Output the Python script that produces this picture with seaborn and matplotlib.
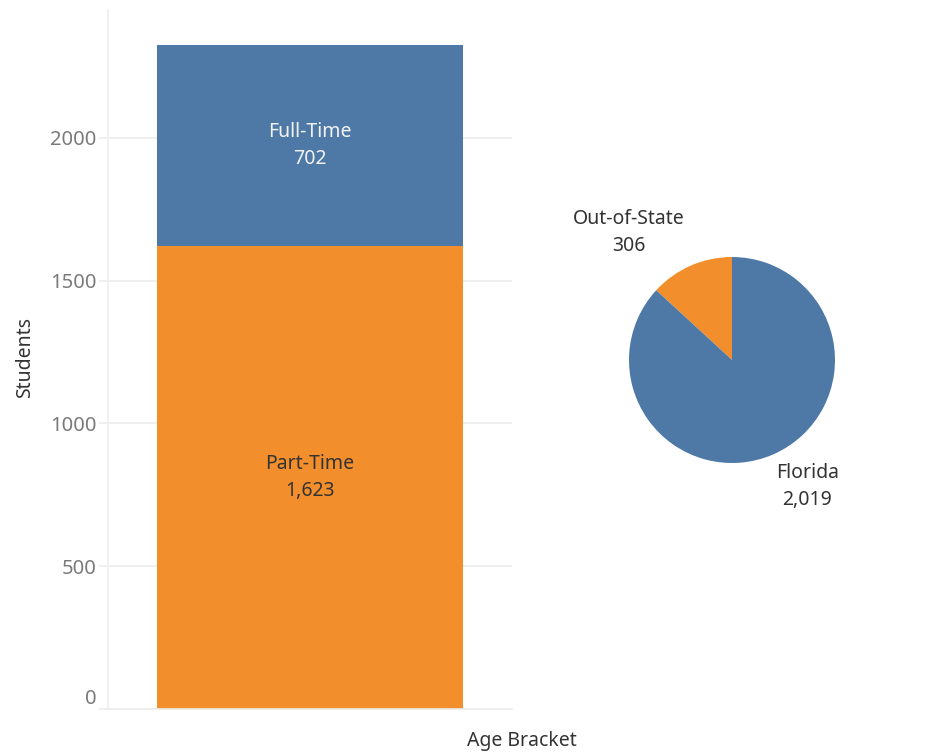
import numpy as np
import pandas as pd
import seaborn as sns
import matplotlib.pyplot as plt

# data
status_labels = ["Part-Time", "Full-Time"]
status_counts = [1623, 702]
residency_labels = ["Out-of-State", "Florida"]
residency_counts = [306, 2019]

blue = "#4e79a7"
orange = "#f28e2b"
grid_col = "#ececec"

sns.set_theme(style="white")
plt.rcParams['font.family'] = ['Noto Sans', 'DejaVu Sans']

fig = plt.figure(figsize=(9.36, 7.55), dpi=100)

# stacked bar
ax = fig.add_axes([108 / 936, 1 - 709 / 755, 404 / 936, 699 / 755])
total = sum(status_counts)
df_total = pd.DataFrame({"x": [""], "y": [total]})
df_part = pd.DataFrame({"x": [""], "y": [status_counts[0]]})
sns.barplot(data=df_total, x="x", y="y", color=blue, saturation=1, width=0.755,
            linewidth=0, ax=ax)
sns.barplot(data=df_part, x="x", y="y", color=orange, saturation=1, width=0.755,
            linewidth=0, ax=ax)

ax.set_xlim(-0.5, 0.5)
ax.set_ylim(0, 2448)
ax.set_yticks([0, 500, 1000, 1500, 2000])
ax.set_yticklabels(["0", "500", "1000", "1500", "2000"])
ax.yaxis.grid(True, color=grid_col, linewidth=1.2)
ax.set_axisbelow(True)
ax.tick_params(axis="y", length=6.5, width=1.2, color=grid_col, pad=2,
               labelsize=14.5, labelcolor="#7a7a7a", left=True)
ax.tick_params(axis="x", bottom=False, labelbottom=False)
ax.set_xlabel("")
ax.set_ylabel("")
for s in ["top", "right"]:
    ax.spines[s].set_visible(False)
ax.spines["left"].set_color("#f0f0f0")
ax.spines["bottom"].set_color(grid_col)
ax.spines["bottom"].set_linewidth(1.2)
ax.get_yticklabels()[0].set_va("bottom")

# segment labels
ax.text(0, status_counts[0] / 2, f"{status_labels[0]}\n{status_counts[0]:,}",
        ha="center", va="center", fontsize=14, color="#333333", linespacing=1.45)
ax.text(0, status_counts[0] + status_counts[1] / 2, f"{status_labels[1]}\n{status_counts[1]:,}",
        ha="center", va="center", fontsize=14, color="#f2f2f2", linespacing=1.45)

fig.text(25 / 936, 1 - 358 / 755, "Students", rotation=90, ha="center", va="center",
         fontsize=14, color="#333333")
fig.text(522 / 936, 1 - 741 / 755, "Age Bracket", ha="center", va="center",
         fontsize=14, color="#333333")

# pie
pax = fig.add_axes([629 / 936, 1 - 463 / 755, 206 / 936, 206 / 755])
pax.pie(residency_counts, colors=[orange, blue], startangle=90, counterclock=True,
        wedgeprops=dict(linewidth=0))
pax.set_xlim(-1, 1)
pax.set_ylim(-1, 1)
pax.set_aspect("equal")
pax.text(-1.0, 1.24, f"{residency_labels[0]}\n{residency_counts[0]:,}", ha="center",
         va="center", fontsize=14, color="#333333", linespacing=1.45, clip_on=False)
pax.text(0.73, -1.23, f"{residency_labels[1]}\n{residency_counts[1]:,}", ha="center",
         va="center", fontsize=14, color="#333333", linespacing=1.45, clip_on=False)

fig.savefig("out.png", dpi=100)
